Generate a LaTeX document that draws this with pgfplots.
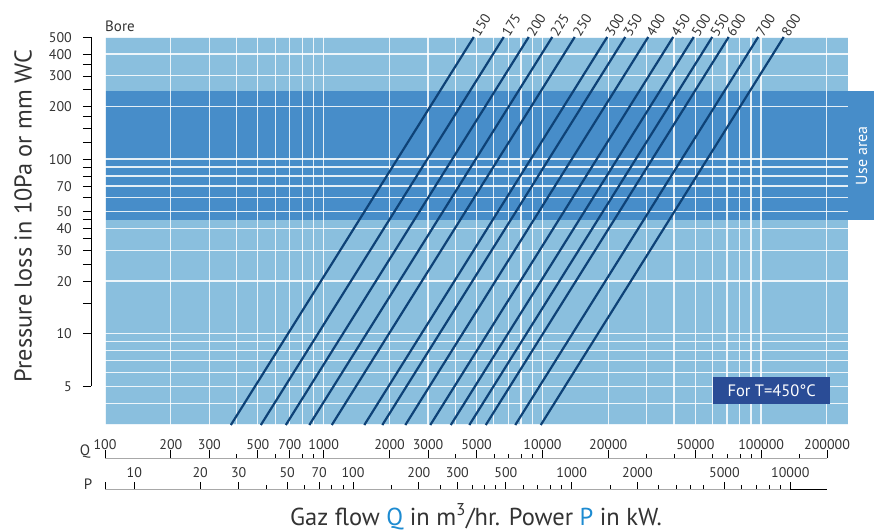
\documentclass[border=0pt]{standalone}
\usepackage{fontspec}
\setmainfont{PT Sans}
\usepackage{pgfplots}
\pgfplotsset{compat=1.18}

\definecolor{lightbg}{HTML}{8ABFDE}
\definecolor{band}{HTML}{478DC9}
\definecolor{boreline}{HTML}{0E4277}
\definecolor{boxblue}{HTML}{2A4C96}
\definecolor{labelblue}{HTML}{1D8BD1}
\definecolor{txt}{HTML}{333333}
\definecolor{axgray}{HTML}{A8A8A8}

\pgfplotsset{
  bore/.style={boreline, line width=2.2pt},
}
\tikzset{
  bl/.style={anchor=west, rotate=58, inner sep=1.5pt, text=txt, font=\fontsize{14}{16}\selectfont},
}

\begin{document}
\begin{tikzpicture}

% main chart area
\begin{axis}[
  set layers, clip=false,
  at={(105pt,106pt)}, anchor=south west,
  scale only axis, width=743pt, height=388pt,
  xmode=log, ymode=log,
  xmin=100, xmax=250000, ymin=3, ymax=500,
  axis line style={draw=none},
  xtick={100,1000,10000,100000},
  minor xtick={200,300,400,500,600,700,800,900,2000,3000,4000,5000,6000,7000,8000,9000,
    20000,30000,40000,50000,60000,70000,80000,90000,200000},
  ytick={10,100},
  minor ytick={3,4,5,6,7,8,9,20,30,40,50,60,70,80,90,200,300,400,500},
  xticklabels={,,,,}, yticklabels={,,,},
  major tick length=0pt, minor tick length=0pt,
  grid=both,
  major grid style={white, line width=1.3pt, opacity=0.85},
  minor grid style={white, line width=1.3pt, opacity=0.85},
]
\addplot[on layer=axis background, fill=lightbg, draw=none]
  coordinates {(100,3) (250000,3) (250000,500) (100,500)} -- cycle;
\addplot[on layer=axis background, fill=band, draw=none]
  coordinates {(100,44.5) (250000,44.5) (250000,246) (100,246)} -- cycle;

% use area tab
\fill[band] (axis cs:250000,44.5) rectangle ([xshift=26pt]axis cs:250000,246);
\node[rotate=90, text=white, font=\fontsize{16}{18}\selectfont]
  at ([xshift=13.5pt]axis cs:250000,104.6) {Use area};

% bore lines: (Q at 3, 3) -- (Q at 500, 500)
\addplot[bore] coordinates {(376.3,3) (4858,500)} node[pos=1, bl] {150};
\addplot[bore] coordinates {(516.0,3) (6661,500)} node[pos=1, bl] {175};
\addplot[bore] coordinates {(671.2,3) (8665,500)} node[pos=1, bl] {200};
\addplot[bore] coordinates {(859.8,3) (11100,500)} node[pos=1, bl] {225};
\addplot[bore] coordinates {(1089.6,3) (14066,500)} node[pos=1, bl] {250};
\addplot[bore] coordinates {(1534.4,3) (19809,500)} node[pos=1, bl] {300};
\addplot[bore] coordinates {(1854.5,3) (23942,500)} node[pos=1, bl] {350};
\addplot[bore] coordinates {(2362.9,3) (30504,500)} node[pos=1, bl] {400};
\addplot[bore] coordinates {(3073.6,3) (39680,500)} node[pos=1, bl] {450};
\addplot[bore] coordinates {(3813.8,3) (49236,500)} node[pos=1, bl] {500};
\addplot[bore] coordinates {(4635,3) (59837,500)} node[pos=1, bl] {550};
\addplot[bore] coordinates {(5512,3) (71163,500)} node[pos=1, bl] {600};
\addplot[bore] coordinates {(7521,3) (97095,500)} node[pos=1, bl] {700};
\addplot[bore] coordinates {(9837,3) (127000,500)} node[pos=1, bl] {800};
\end{axis}

% left pressure scale
\begin{axis}[
  at={(91pt,144.8pt)}, anchor=south west,
  scale only axis, width=10pt, height=349pt,
  ymode=log, ymin=5, ymax=500, xmin=0, xmax=1,
  axis x line=none, axis y line*=left,
  y axis line style={black, line width=0.8pt},
  ytick={5,10,20,30,40,50,70,100,200,300,400,500},
  yticklabels={5,10,20,30,40,50,70,100,200,300,400,500},
  minor ytick={15,25,35,45,60,80,90,125,150,175,250,350},
  tick align=outside, major tick length=8pt, minor tick length=8pt,
  tick style={black, line width=0.8pt},
  yticklabel style={anchor=east, inner sep=0pt, xshift=-11pt, text=txt, font=\fontsize{14}{16}\selectfont},
]
\end{axis}

% Q scale
\begin{axis}[
  at={(105pt,73pt)}, anchor=south west,
  scale only axis, width=722pt, height=1pt,
  xmode=log, xmin=100, xmax=200000, ymin=0, ymax=1,
  axis y line=none, axis x line*=bottom,
  x axis line style={axgray, line width=1pt},
  xtick={100,200,300,500,700,1000,2000,3000,5000,10000,20000,50000,100000,200000},
  xticklabels={100,200,300,500,700,1000,2000,3000,5000,10000,20000,50000,100000,200000},
  minor xtick={400,600,800,900,4000,6000,7000,8000,9000,30000,40000,60000,70000,80000,90000,150000},
  tick align=inside, major tick length=8pt, minor tick length=4pt,
  tick style={black, line width=0.8pt},
  xticklabel style={anchor=south, inner sep=0pt, yshift=8pt, text=txt, font=\fontsize{14}{16}\selectfont},
]
\end{axis}

% P scale
\begin{axis}[
  at={(105pt,41.7pt)}, anchor=south west,
  scale only axis, width=685.3pt, height=1pt,
  xmode=log, xmin=7.34, xmax=10000, ymin=0, ymax=1,
  axis y line=none, axis x line*=bottom,
  x axis line style={axgray, line width=1pt},
  xtick={7.34,10,20,30,50,70,100,200,300,500,1000,2000,5000,10000},
  xticklabels={{},10,20,30,50,70,100,200,300,500,1000,2000,5000,10000},
  minor xtick={40,60,80,90,150,250,350,400,450,600,700,800,900,1500,2500,3000,3500,4000,6000,7000,8000,9000},
  tick align=inside, major tick length=7pt, minor tick length=4pt,
  tick style={black, line width=0.8pt},
  xticklabel style={anchor=south, inner sep=0pt, yshift=11pt, text=txt, font=\fontsize{14}{16}\selectfont},
]
\end{axis}
\draw[black, line width=1pt] (790pt,41.7pt) -- (827pt,41.7pt);

% texts
\node[anchor=base west, inner sep=0pt, text=txt, font=\fontsize{15}{17}\selectfont] at (105pt,499pt) {Bore};
\node[text=txt, font=\fontsize{15}{17}\selectfont] at (85pt,79pt) {Q};
\node[text=txt, font=\fontsize{15}{17}\selectfont] at (88pt,47pt) {P};
\node[fill=boxblue, text=white, minimum width=116.7pt, minimum height=27.6pt, inner sep=0pt,
  font=\fontsize{16.5}{18}\selectfont] at (771.7pt,140.5pt) {For T=450°C};
\node[rotate=90, text=txt, font=\fontsize{24.3}{28}\selectfont] at (23pt,315pt)
  {Pressure loss in 10Pa or mm WC};
\node[anchor=base, inner sep=0pt, text=txt, font=\fontsize{24.5}{28}\selectfont] at (476pt,6pt)
  {Gaz flow \textcolor{labelblue}{Q} in m\textsuperscript{3}/hr. Power \textcolor{labelblue}{P} in kW.};
\path (0pt,0pt) rectangle (881pt,531pt);
\end{tikzpicture}
\end{document}
